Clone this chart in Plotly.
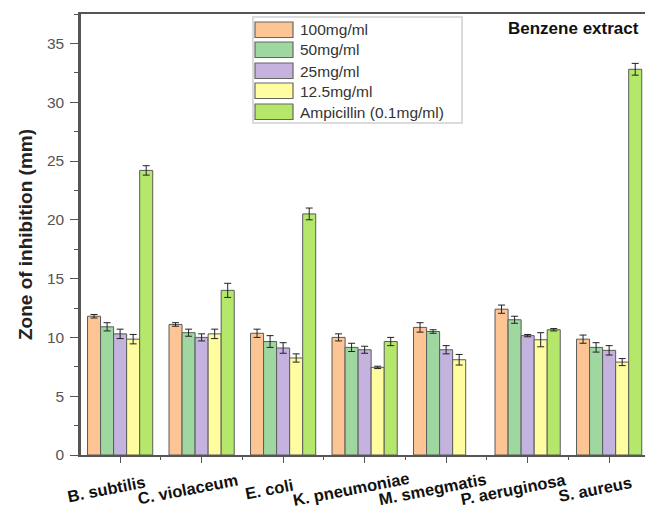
import plotly.graph_objects as go

categories = ["B. subtilis", "C. violaceum", "E. coli", "K. pneumoniae",
              "M. smegmatis", "P. aeruginosa", "S. aureus"]
series_names = ["100mg/ml", "50mg/ml", "25mg/ml", "12.5mg/ml", "Ampicillin (0.1mg/ml)"]

v100 = [11.8, 11.1, 10.35, 10.0, 10.85, 12.4, 9.85]
v50 = [10.9, 10.4, 9.65, 9.15, 10.5, 11.5, 9.15]
v25 = [10.3, 10.0, 9.1, 8.95, 8.95, 10.15, 8.9]
v12 = [9.85, 10.3, 8.25, 7.45, 8.1, 9.8, 7.9]
vamp = [24.2, 14.0, 20.5, 9.65, None, 10.65, 32.8]

e100 = [0.15, 0.15, 0.35, 0.3, 0.4, 0.35, 0.35]
e50 = [0.35, 0.3, 0.5, 0.35, 0.15, 0.3, 0.4]
e25 = [0.4, 0.3, 0.45, 0.3, 0.35, 0.1, 0.4]
e12 = [0.4, 0.4, 0.35, 0.1, 0.45, 0.6, 0.3]
eamp = [0.4, 0.6, 0.5, 0.35, 0, 0.1, 0.5]

y_ticks = [0, 5, 10, 15, 20, 25, 30, 35]

colors = ["#FDC593", "#9ED8A0", "#C4B3DF", "#FFFDA0", "#B5E86A"]
values = [v100, v50, v25, v12, vamp]
errors = [e100, e50, e25, e12, eamp]

xpos = list(range(len(categories)))

fig = go.Figure()
for name, vals, errs, col in zip(series_names, values, errors, colors):
    fig.add_trace(go.Bar(
        x=xpos, y=vals, name=name,
        marker=dict(color=col, line=dict(color="#5a5a5a", width=1)),
        error_y=dict(type="data", array=errs, visible=True, color="#222",
                     thickness=1, width=3.5),
        showlegend=False,
    ))

fig.update_layout(
    width=645, height=515,
    margin=dict(l=81, r=0, t=14, b=60, autoexpand=False),
    paper_bgcolor="white", plot_bgcolor="white",
    barmode="group", bargap=0.2, bargroupgap=0,
    font=dict(family="Liberation Sans, Arial", color="#333"),
)
fig.update_xaxes(
    range=[-0.48, 6.44], tickvals=xpos, ticktext=[""] * len(xpos),
    showline=True, linecolor="#555", linewidth=2, mirror=True,
    ticks="outside", ticklen=6, tickcolor="#555", tickwidth=1,
    minor=dict(tick0=0.5, dtick=1, ticks="outside", ticklen=3, tickcolor="#555"),
    showgrid=False, zeroline=False, automargin=False,
)
fig.update_yaxes(
    range=[0, 37.5], tickvals=y_ticks,
    showline=True, linecolor="#555", linewidth=2.5,
    ticks="outside", ticklen=8, tickcolor="#555", tickwidth=1,
    minor=dict(dtick=2.5, ticks="outside", ticklen=4, tickcolor="#555"),
    tickfont=dict(size=15.5, color="#555"),
    ticklabelstandoff=3,
    showgrid=False, zeroline=False, automargin=False,
    title=dict(text="<b>Zone of inhibition (mm)</b>", font=dict(size=19, color="#222"), standoff=10),
)

# category labels (slanted, bold)
for i, c in enumerate(categories):
    fig.add_annotation(x=i - 0.17, y=-0.078, xref="x", yref="paper",
                       text="<b>" + c + "</b>", showarrow=False,
                       textangle=-11, font=dict(size=16.5, color="#111"),
                       xanchor="center", yanchor="middle")

# legend box
lx0, lx1 = 253, 462
ly0, ly1 = 17, 123
pl, pr, pt, pb = 81, 645, 14, 455


def px(x):
    return (x - pl) / (pr - pl)


def py(y):
    return (pb - y) / (pb - pt)


fig.add_shape(type="rect", xref="paper", yref="paper",
              x0=px(lx0), x1=px(lx1), y0=py(ly1), y1=py(ly0),
              line=dict(color="#cfcfcf", width=1.5), fillcolor="white")
row_top = [22, 42, 63, 83, 104]
for name, col, rt in zip(series_names, colors, row_top):
    fig.add_shape(type="rect", xref="paper", yref="paper",
                  x0=px(255), x1=px(293), y0=py(rt + 15.5), y1=py(rt),
                  line=dict(color="#666", width=1.2), fillcolor=col)
    fig.add_annotation(x=px(298), y=py(rt + 8), xref="paper", yref="paper",
                       text=name, showarrow=False, xanchor="left", yanchor="middle",
                       font=dict(size=15.5, color="#333"))

fig.add_annotation(x=px(641), y=py(28), xref="paper", yref="paper",
                   text="<b>Benzene extract</b>", showarrow=False,
                   xanchor="right", yanchor="middle",
                   font=dict(size=17, color="#111"))

fig.write_html("out.html", config={"displayModeBar": False},
               post_script="document.body.style.margin='0';document.body.style.overflow='hidden';")
